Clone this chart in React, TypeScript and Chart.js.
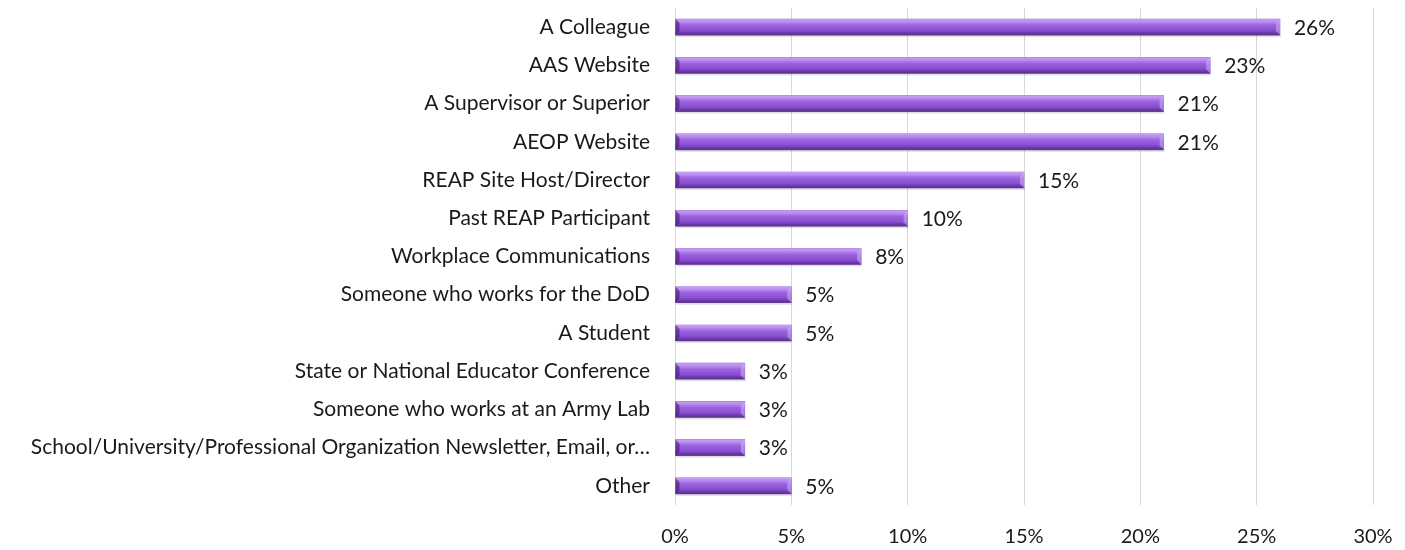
import React, { useEffect, useRef } from "react";
import { Chart, registerables } from "chart.js";

Chart.register(...registerables);

const categories = [
  "A Colleague",
  "AAS Website",
  "A Supervisor or Superior",
  "AEOP Website",
  "REAP Site Host/Director",
  "Past REAP Participant",
  "Workplace Communications",
  "Someone who works for the DoD",
  "A Student",
  "State or National Educator Conference",
  "Someone who works at an Army Lab",
  "School/University/Professional Organization Newsletter, Email, or…",
  "Other",
];
const values = [26, 23, 21, 21, 15, 10, 8, 5, 5, 3, 3, 3, 5];
const xTicks = [0, 5, 10, 15, 20, 25, 30];

const FONT = "Lato, 'Open Sans', sans-serif";
const FS = 21;

const bevelPlugin = {
  id: "bevel",
  afterDatasetsDraw(chart: any) {
    const ctx = chart.ctx;
    const meta = chart.getDatasetMeta(0);
    meta.data.forEach((bar: any) => {
      const { x, y, base, height } = bar.getProps(["x", "y", "base", "height"], true);
      const top = y - height / 2;
      const bot = y + height / 2;
      ctx.save();
      ctx.fillStyle = "rgba(0,0,0,0.12)";
      ctx.fillRect(base + 1, bot, x - base, 2);
      const g = ctx.createLinearGradient(0, top, 0, bot);
      g.addColorStop(0, "#c9a3f4");
      g.addColorStop(0.2, "#b587ec");
      g.addColorStop(0.38, "#9c62de");
      g.addColorStop(0.7, "#8a4fd2");
      g.addColorStop(0.85, "#6f3cab");
      g.addColorStop(1, "#552d88");
      ctx.fillStyle = g;
      ctx.fillRect(base, top, x - base, height);
      const b = 4;
      ctx.fillStyle = "rgba(70,25,120,0.6)";
      ctx.beginPath();
      ctx.moveTo(base, top);
      ctx.lineTo(base + b, top + b);
      ctx.lineTo(base + b, bot - b);
      ctx.lineTo(base, bot);
      ctx.closePath();
      ctx.fill();
      ctx.fillStyle = "rgba(205,175,245,0.55)";
      ctx.beginPath();
      ctx.moveTo(x, top);
      ctx.lineTo(x - b, top + b);
      ctx.lineTo(x - b, bot - b);
      ctx.lineTo(x, bot);
      ctx.closePath();
      ctx.fill();
      ctx.restore();
    });
  },
};

const labelPlugin = {
  id: "valueLabels",
  afterDatasetsDraw(chart: any) {
    const ctx = chart.ctx;
    const meta = chart.getDatasetMeta(0);
    ctx.save();
    ctx.font = `${FS}px ${FONT}`;
    ctx.fillStyle = "#1a1a1a";
    ctx.textBaseline = "middle";
    ctx.textAlign = "left";
    meta.data.forEach((bar: any, i: number) => {
      ctx.fillText(values[i] + "%", bar.x + 14, bar.y + 1);
    });
    ctx.restore();
  },
};

export default function App() {
  const ref = useRef<HTMLCanvasElement>(null);
  useEffect(() => {
    if (!ref.current) return;
    const chart = new Chart(ref.current, {
      type: "bar",
      data: {
        labels: categories,
        datasets: [
          {
            data: values,
            backgroundColor: "#8e55d6",
            borderWidth: 0,
            barThickness: 16,
          },
        ],
      },
      options: {
        indexAxis: "y",
        animation: false,
        responsive: true,
        maintainAspectRatio: false,
        layout: { padding: { top: 0, right: 24, left: 0, bottom: 0 } },
        plugins: {
          legend: { display: false },
          tooltip: { enabled: false },
        },
        scales: {
          x: {
            min: 0,
            max: 30,
            afterBuildTicks(axis: any) {
              axis.ticks = xTicks.map((v) => ({ value: v }));
            },
            afterFit(axis: any) {
              axis.height = 43;
              axis.paddingLeft = 0;
              axis.paddingRight = 0;
            },
            grid: { color: "#d9d9d9", drawTicks: false, lineWidth: 1 },
            border: { display: false },
            ticks: {
              padding: 20,
              color: "#1a1a1a",
              font: { family: FONT, size: 20 },
              callback: (v: any) => v + "%",
            },
          },
          y: {
            afterFit(axis: any) {
              axis.width = 667;
              axis.paddingTop = 0;
              axis.paddingBottom = 0;
            },
            grid: { display: false, drawTicks: false },
            border: { display: false },
            ticks: {
              padding: 25,
              color: "#1a1a1a",
              font: { family: FONT, size: FS },
              autoSkip: false,
            },
          },
        },
      },
      plugins: [bevelPlugin, labelPlugin],
    });
    return () => chart.destroy();
  }, []);
  return (
    <div style={{ width: 1389, height: 540 }}>
      <canvas ref={ref} />
    </div>
  );
}
